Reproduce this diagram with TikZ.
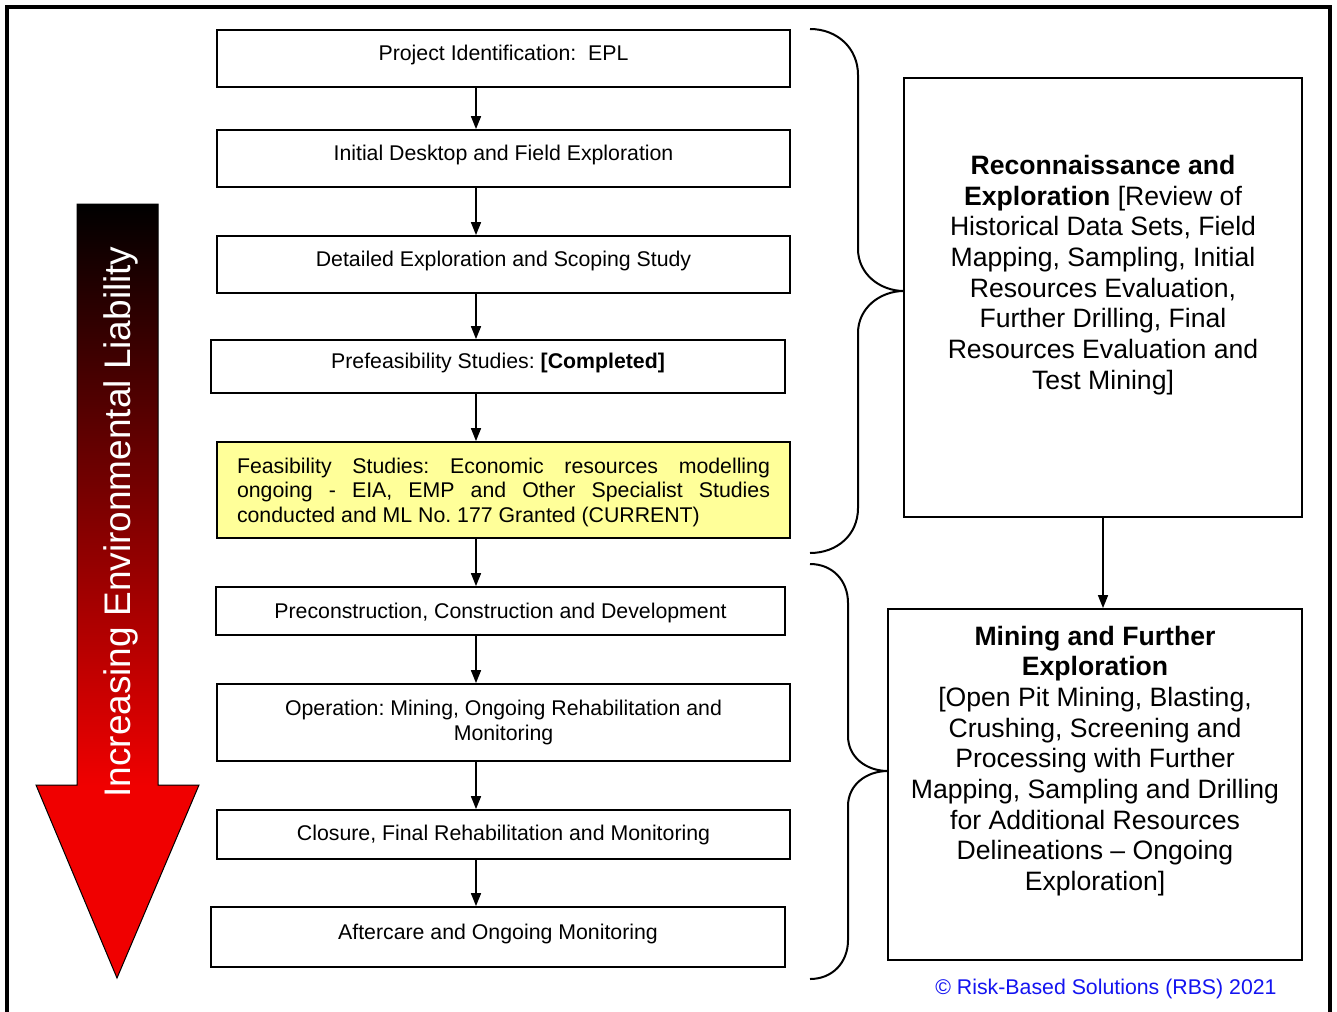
\documentclass[tikz,border=0pt]{standalone}
\usepackage{fontspec}
\setmainfont{Liberation Sans}
\usetikzlibrary{arrows.meta,calc}

\definecolor{feasyellow}{HTML}{FFFF99}
\definecolor{liabred}{HTML}{F00000}
\definecolor{liabmid}{HTML}{8A0000}
\definecolor{rbsblue}{HTML}{1414F0}

\begin{document}
\frenchspacing
\begin{tikzpicture}[x=1pt,y=-1pt,
  stage/.style={draw, line width=1.8pt, fill=white, inner sep=0pt, align=center,
    font=\fontsize{21.3}{24.5}\selectfont},
  % single-line labels sit a little above the middle of their box
  raised/.style={text depth=10.5pt},
  phasebox/.style={draw, line width=1.8pt, inner sep=0pt},
  phasetext/.style={align=center, inner sep=0pt, font=\fontsize{26.6}{30.7}\selectfont},
  flow/.style={line width=1.6pt, -{Triangle[length=13pt,width=10pt]}},
  bracepath/.style={line width=2pt},
]
\useasboundingbox (0,0) rectangle (1337,1011);
\clip (0,0) rectangle (1337,1011);

% outer frame (its lower edge runs off the page)
\draw[line width=4pt] (7,7) rectangle (1330,1040);

% liability arrow: shaded shaft, solid head
\fill[liabred] (36,785) -- (199,785) -- (117,978) -- cycle;
\shade[top color=black, middle color=liabmid, bottom color=liabred]
  (77,204) rectangle (158,786);
\draw[line width=1pt] (77,204) -- (158,204) -- (158,785) -- (199,785) -- (117,978)
  -- (36,785) -- (77,785) -- cycle;
\node[rotate=90, text=white, inner sep=0pt, font=\fontsize{37}{40}\selectfont]
  (liabtext) at (120.5,522) {Increasing Environmental Liability};

% life-cycle stages
\node[stage, raised, minimum width=573pt, minimum height=57pt] (s1) at (503.5,58.5)
  {Project Identification:\ \ EPL};
\node[stage, raised, minimum width=573pt, minimum height=57pt] (s2) at (503.5,158.5)
  {Initial Desktop and Field Exploration};
\node[stage, raised, minimum width=573pt, minimum height=57pt] (s3) at (503.5,264.5)
  {Detailed Exploration and Scoping Study};
\node[stage, raised, minimum width=574pt, minimum height=53pt] (s4) at (498,366.5)
  {Prefeasibility Studies: \textbf{[Completed]}};
\node[stage, fill=feasyellow, minimum width=573pt, minimum height=96pt,
      text width=533pt, align=justify] (s5) at (503.5,490)
  {\tolerance=10000\hyphenpenalty=10000 \rule{0pt}{19.5pt}Feasibility Studies: Economic resources modelling\linebreak
   ongoing - EIA, EMP and Other Specialist Studies\linebreak
   conducted and ML No. 177 Granted (CURRENT)};
\node[stage, minimum width=569pt, minimum height=48pt] (s6) at (500.5,611)
  {\rule{0pt}{19pt}Preconstruction, Construction and Development};
\node[stage, minimum width=573pt, minimum height=77pt] (s7) at (503.5,722.5)
  {Operation: Mining, Ongoing Rehabilitation and\\ Monitoring};
\node[stage, minimum width=573pt, minimum height=49pt] (s8) at (503.5,834.5)
  {Closure, Final Rehabilitation and Monitoring};
\node[stage, raised, minimum width=574pt, minimum height=60pt] (s9) at (498,937)
  {Aftercare and Ongoing Monitoring};

\coordinate (ax) at (476,0);
\foreach \a/\b in {s1/s2,s2/s3,s3/s4,s4/s5,s5/s6,s6/s7,s7/s8,s8/s9}
  \draw[flow] (\a.south -| ax) -- (\b.north -| ax);

% phase boxes
\node[phasebox, minimum width=398pt, minimum height=439pt] (recon) at (1103,297.5) {};
\node[phasetext] (recontext) at (1103,275)
  {\textbf{Reconnaissance and}\\
   \textbf{Exploration} {[}Review of\\
   Historical Data Sets, Field\\
   Mapping, Sampling, Initial\\
   Resources Evaluation,\\
   Further Drilling, Final\\
   Resources Evaluation and\\
   Test Mining{]}};
\node[phasebox, minimum width=414pt, minimum height=351pt] (mining) at (1095,784.5) {};
\node[phasetext] (miningtext) at (1095,761)
  {\textbf{Mining and Further}\\
   \textbf{Exploration}\\
   {[}Open Pit Mining, Blasting,\\
   Crushing, Screening and\\
   Processing with Further\\
   Mapping, Sampling and Drilling\\
   for Additional Resources\\
   Delineations – Ongoing\\
   Exploration{]}};
\draw[flow] (recon.south) -- (recon.south |- mining.north);

% braces grouping the stages into phases
\draw[bracepath] (810,29) .. controls (837,29) and (858,48) .. (858,75)
  -- (858,249) .. controls (858,274) and (880,291) .. (904,291)
  .. controls (880,291) and (858,308) .. (858,333)
  -- (858,508) .. controls (858,535) and (837,553) .. (810,553);
\draw[bracepath] (810,564) .. controls (832,564) and (848,580) .. (848,603)
  -- (848,736) .. controls (848,757) and (866,771) .. (888,771)
  .. controls (866,771) and (848,785) .. (848,806)
  -- (848,940) .. controls (848,963) and (832,979) .. (810,979);

\node[text=rbsblue, inner sep=0pt, font=\fontsize{21.3}{24}\selectfont] (credit)
  at (1106,989) {\textcopyright{} Risk-Based Solutions (RBS) 2021};
\end{tikzpicture}
\end{document}
